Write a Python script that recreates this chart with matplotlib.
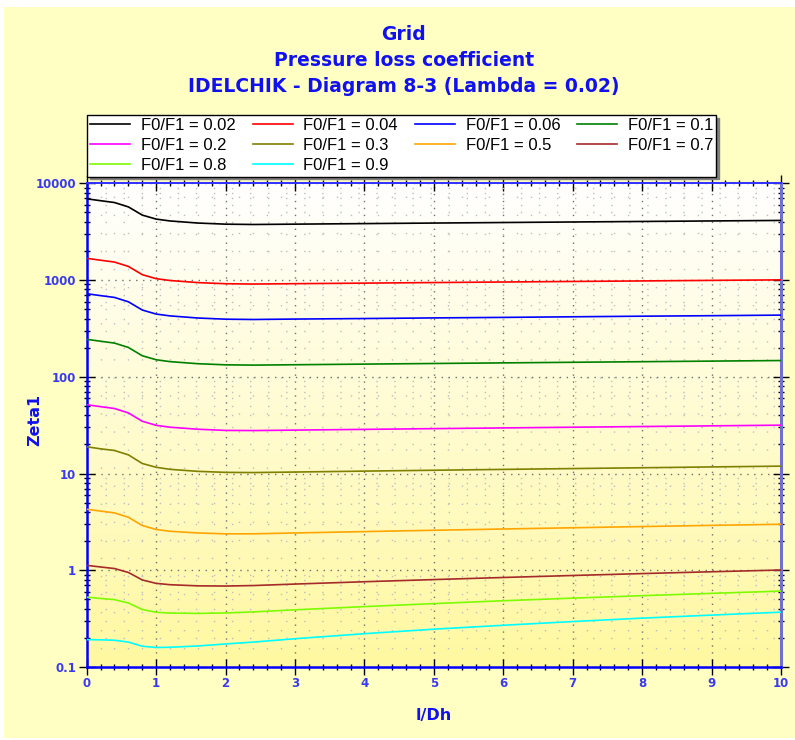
import matplotlib.pyplot as plt
import numpy as np
from matplotlib.patches import Rectangle
from matplotlib.colors import LinearSegmentedColormap
from matplotlib.ticker import FixedLocator, MultipleLocator, LogLocator, NullFormatter

# l/Dh positions where the curves were read
l_dh = [0, 0.2, 0.4, 0.6, 0.8, 1.0, 1.2, 1.6, 2.0, 2.4, 3, 4, 5, 6, 7, 8, 9, 10]

# Zeta1, one list per area ratio F0/F1
z_002 = [6915, 6609, 6327, 5705, 4694, 4266, 4081, 3883, 3781, 3752, 3782, 3832, 3882, 3932, 3982, 4032, 4082, 4132]
z_004 = [1677, 1603, 1534, 1383, 1137, 1033, 989, 941, 916, 909, 917, 929, 942, 954, 967, 979, 992, 1004]
z_006 = [722, 690, 661, 596, 490, 445, 426, 405, 394, 391, 395, 400, 406, 411, 417, 423, 428, 434]
z_01 = [244, 233, 223, 201, 165, 150, 143.4, 136.5, 132.9, 132.0, 133.2, 135.2, 137.2, 139.2, 141.2, 143.2, 145.2, 147.2]
z_02 = [51.4, 49.1, 47.0, 42.3, 34.7, 31.5, 30.1, 28.7, 27.9, 27.8, 28.1, 28.6, 29.1, 29.6, 30.1, 30.6, 31.1, 31.6]
z_03 = [18.9, 18.0, 17.3, 15.6, 12.7, 11.6, 11.05, 10.53, 10.28, 10.23, 10.36, 10.59, 10.81, 11.03, 11.25, 11.47, 11.70, 11.92]
z_05 = [4.27, 4.09, 3.92, 3.53, 2.90, 2.64, 2.53, 2.43, 2.38, 2.38, 2.43, 2.51, 2.59, 2.67, 2.75, 2.83, 2.91, 2.99]
z_07 = [1.124, 1.081, 1.042, 0.949, 0.794, 0.732, 0.709, 0.690, 0.687, 0.695, 0.720, 0.761, 0.801, 0.842, 0.883, 0.924, 0.965, 1.006]
z_08 = [0.527, 0.511, 0.497, 0.459, 0.393, 0.368, 0.361, 0.358, 0.362, 0.371, 0.390, 0.421, 0.452, 0.484, 0.515, 0.546, 0.577, 0.609]
z_09 = [0.192, 0.191, 0.189, 0.181, 0.164, 0.159, 0.160, 0.165, 0.173, 0.181, 0.196, 0.221, 0.246, 0.270, 0.295, 0.320, 0.344, 0.369]

labels = ['F0/F1 = 0.02', 'F0/F1 = 0.04', 'F0/F1 = 0.06', 'F0/F1 = 0.1', 'F0/F1 = 0.2',
          'F0/F1 = 0.3', 'F0/F1 = 0.5', 'F0/F1 = 0.7', 'F0/F1 = 0.8', 'F0/F1 = 0.9']
series = [z_002, z_004, z_006, z_01, z_02, z_03, z_05, z_07, z_08, z_09]
colors = ['black', 'red', '#0000FF', '#008000', '#FF00FF', '#808000', '#FFA500', '#A52A2A', '#7CFC00', '#00FFFF']

y_ticks = [0.1, 1, 10, 100, 1000, 10000]
y_tick_labels = ['0.1', '1', '10', '100', '1000', '10000']

title_blue = '#1010F0'
tick_blue = '#3A3AF0'

fig = plt.figure(figsize=(7.95, 7.4), dpi=100, facecolor='white')
# yellow panel behind everything
fig.patches.append(Rectangle((4 / 795, 2 / 740), 1, 731 / 740, transform=fig.transFigure,
                             facecolor='#FFFFC4', edgecolor='none', zorder=-10))

ax = fig.add_axes([86.7 / 795, 1 - 667 / 740, 694.3 / 795, 483.7 / 740])
ax.set_facecolor('none')

# white (top) -> yellow (bottom) gradient inside the plot area
grad = np.linspace(0, 1, 256).reshape(-1, 1)
cmap = LinearSegmentedColormap.from_list('bg', ['#FFFFFF', '#FFF8A0'])
ax.imshow(grad, extent=[0, 1, 0, 1], transform=ax.transAxes, aspect='auto', cmap=cmap, zorder=0)

lines = []
for vals, lab, c in zip(series, labels, colors):
    ln, = ax.plot(l_dh, vals, color=c, linewidth=1.2, label=lab, zorder=3)
    lines.append(ln)

ax.set_yscale('log')
ax.set_xlim(0, 10)
ax.set_ylim(0.1, 10000)

ax.xaxis.set_major_locator(MultipleLocator(1))
ax.xaxis.set_minor_locator(MultipleLocator(0.2))
ax.yaxis.set_major_locator(FixedLocator(y_ticks))
ax.yaxis.set_minor_locator(LogLocator(base=10, subs=range(2, 10)))
ax.yaxis.set_minor_formatter(NullFormatter())
ax.set_yticklabels(y_tick_labels)

ax.set_axisbelow(True)
ax.grid(which='major', color='#707070', linestyle=(0, (1, 4)), linewidth=1.0)
ax.grid(which='minor', color='#BEBEBE', linestyle=(0, (1, 12)), linewidth=1.0)

ax.tick_params(which='both', direction='inout', top=True, right=True, color='black', width=1.0)
ax.tick_params(which='major', length=11, labelsize=8.5, labelcolor=tick_blue, pad=2)
ax.tick_params(which='minor', length=4.5)
for t in ax.get_xticklabels() + ax.get_yticklabels():
    t.set_fontweight('bold')

ax.spines['left'].set_color('#0000FF')
ax.spines['bottom'].set_color('#0000FF')
ax.spines['top'].set_color('#3030FF')
ax.spines['right'].set_color('#7070D0')
ax.spines['left'].set_linewidth(1.8)
ax.spines['bottom'].set_linewidth(1.8)
ax.spines['top'].set_linewidth(1.4)
ax.spines['right'].set_linewidth(2.2)

ax.set_ylabel('Zeta1', color=title_blue, fontsize=11.5, fontweight='bold')
ax.set_xlabel('l/Dh', color=title_blue, fontsize=11.5, fontweight='bold')
ax.yaxis.set_label_coords(-0.0745, 0.51)
ax.xaxis.set_label_coords(0.5, -0.101)
ax.xaxis.label.set_va('center')
ax.yaxis.label.set_va('center')

fig.text(0.508, 1 - 35 / 740, 'Grid', ha='center', va='center', color=title_blue,
         fontsize=13.5, fontweight='bold')
fig.text(0.508, 1 - 61 / 740, 'Pressure loss coefficient', ha='center', va='center',
         color=title_blue, fontsize=13.5, fontweight='bold')
fig.text(0.508, 1 - 86 / 740, 'IDELCHIK - Diagram 8-3 (Lambda = 0.02)', ha='center', va='center',
         color=title_blue, fontsize=13.5, fontweight='bold')

# legend is filled row by row in the reference
order = [0, 4, 8, 1, 5, 9, 2, 6, 3, 7]
leg = ax.legend([lines[i] for i in order], [labels[i] for i in order],
                loc='upper left', bbox_to_anchor=(87 / 795, 1 - 115 / 740), bbox_transform=fig.transFigure,
                ncol=4, frameon=True, fancybox=False, shadow={'color': '#808080', 'alpha': 1},
                borderaxespad=0, borderpad=0.2, handlelength=2.4, handletextpad=0.65,
                columnspacing=1.0, labelspacing=0.3,
                prop={'family': 'Liberation Sans', 'size': 12})
leg.get_frame().set_edgecolor('black')
leg.get_frame().set_linewidth(1.0)
leg.get_frame().set_facecolor('white')
leg.get_frame().set_alpha(1)

fig.savefig('out.png', dpi=100, facecolor=fig.get_facecolor())
